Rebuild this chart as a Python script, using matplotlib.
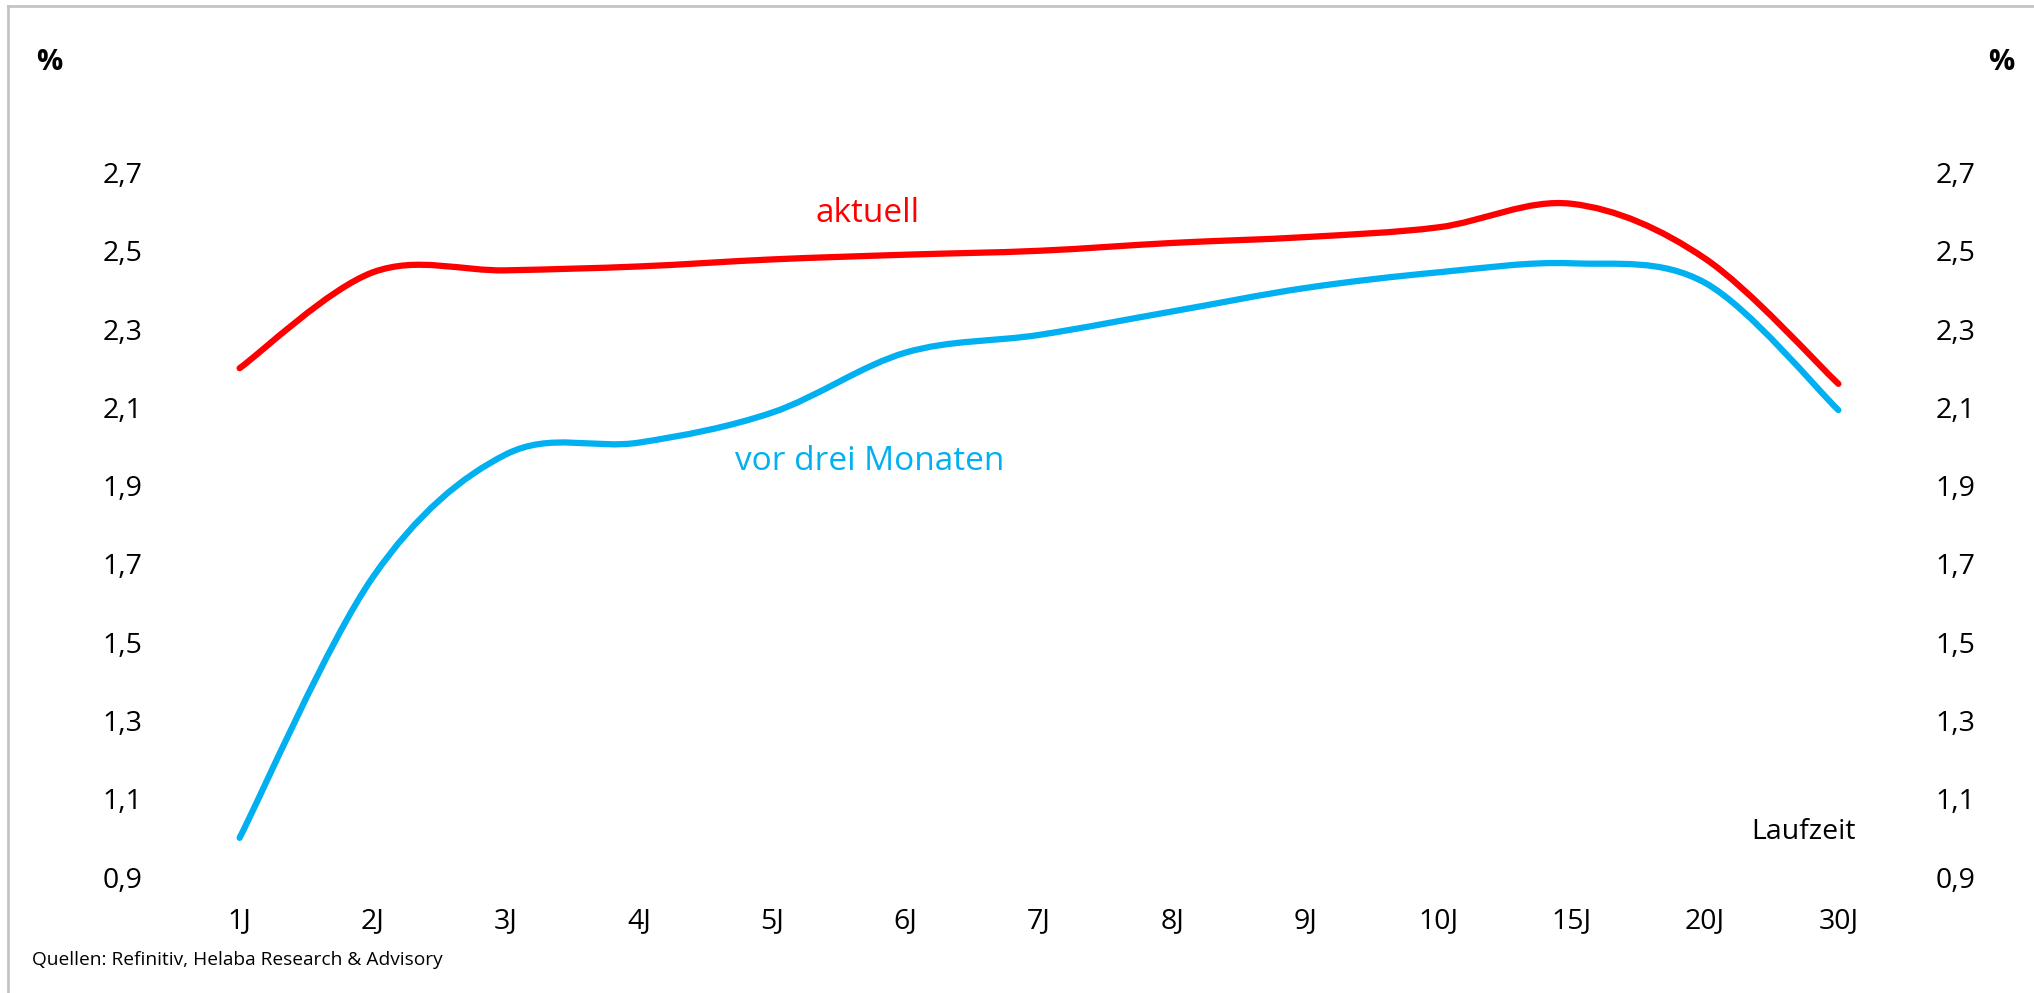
import matplotlib
matplotlib.use("Agg")
import matplotlib.pyplot as plt
from matplotlib.path import Path
from matplotlib.patches import PathPatch
import numpy as np

# ---- data ----
maturities = ["1J", "2J", "3J", "4J", "5J", "6J", "7J", "8J", "9J", "10J", "15J", "20J", "30J"]
aktuell = [2.20, 2.445, 2.45, 2.46, 2.478, 2.49, 2.50, 2.52, 2.535, 2.56, 2.62, 2.48, 2.16]
vor_drei_monaten = [1.00, 1.666, 1.98, 2.01, 2.087, 2.24, 2.285, 2.345, 2.405, 2.445, 2.468, 2.418, 2.093]
y_ticks = [0.9, 1.1, 1.3, 1.5, 1.7, 1.9, 2.1, 2.3, 2.5, 2.7]
y_ticklabels = ["0,9", "1,1", "1,3", "1,5", "1,7", "1,9", "2,1", "2,3", "2,5", "2,7"]

RED = "#FF0000"
BLUE = "#00B0F0"
FONT = "Open Sans"

W, H = 2034, 993
fig = plt.figure(figsize=(W / 100, H / 100), dpi=100)
fig.patch.set_facecolor("white")

# light grey frame (left and top edges visible)
fig.add_artist(plt.Line2D([8 / W, 8 / W], [0, 1 - 6 / H], transform=fig.transFigure,
                          color="#C4C4C4", lw=2))
fig.add_artist(plt.Line2D([8 / W, 1], [1 - 6 / H, 1 - 6 / H], transform=fig.transFigure,
                          color="#C4C4C4", lw=2))

left, right = 173 / W, 1905 / W
bottom, top = 1 - 877 / H, 1 - 172.5 / H
ax = fig.add_axes([left, bottom, right - left, top - bottom])
ax.set_xlim(-0.5, len(maturities) - 0.5)
ax.set_ylim(0.9, 2.7)
for s in ax.spines.values():
    s.set_visible(False)


def smooth_path(xs, ys):
    """Excel-like smoothed line: cubic Bezier segments (Catmull-Rom control points)."""
    pts = np.column_stack([xs, ys])
    n = len(pts)
    verts = [pts[0]]
    codes = [Path.MOVETO]
    for i in range(n - 1):
        p0 = pts[i - 1] if i > 0 else pts[i]
        p1 = pts[i]
        p2 = pts[i + 1]
        p3 = pts[i + 2] if i + 2 < n else pts[i + 1]
        c1 = p1 + (p2 - p0) / 6.0
        c2 = p2 - (p3 - p1) / 6.0
        verts += [c1, c2, p2]
        codes += [Path.CURVE4] * 3
    return Path(verts, codes)


xpos = np.arange(len(maturities))
for vals, col in [(vor_drei_monaten, BLUE), (aktuell, RED)]:
    patch = PathPatch(smooth_path(xpos, np.array(vals)), facecolor="none", edgecolor=col,
                      lw=4.5, capstyle="round", joinstyle="round")
    ax.add_patch(patch)

ax.set_xticks(xpos)
ax.set_xticklabels(maturities, fontsize=20.5, family=FONT)
ax.set_yticks(y_ticks)
ax.set_yticklabels(y_ticklabels, fontsize=20.5, family=FONT)
ax.tick_params(axis="both", length=0)
ax.tick_params(axis="x", pad=22)
ax.tick_params(axis="y", pad=22, labelleft=True, labelright=True)
for lbl in ax.get_yticklabels():
    lbl.set_family(FONT)

# series labels
fig.text(868 / W, 1 - 213 / H, "aktuell", color=RED, fontsize=24, family=FONT,
         ha="center", va="center")
fig.text(870 / W, 1 - 461 / H, "vor drei Monaten", color=BLUE, fontsize=24, family=FONT,
         ha="center", va="center")
fig.text(1803 / W, 1 - 832 / H, "Laufzeit", color="black", fontsize=20.5, family=FONT,
         ha="center", va="center")

# unit labels
fig.text(49 / W, 1 - 62 / H, "%", fontsize=21, fontweight="bold", family=FONT,
         ha="center", va="center")
fig.text(2001 / W, 1 - 62 / H, "%", fontsize=21, fontweight="bold", family=FONT,
         ha="center", va="center")

# source
fig.text(32 / W, 1 - 960 / H, "Quellen: Refinitiv, Helaba Research & Advisory",
         fontsize=13.8, family=FONT, ha="left", va="center")

fig.savefig("out.png", dpi=100, facecolor="white")
